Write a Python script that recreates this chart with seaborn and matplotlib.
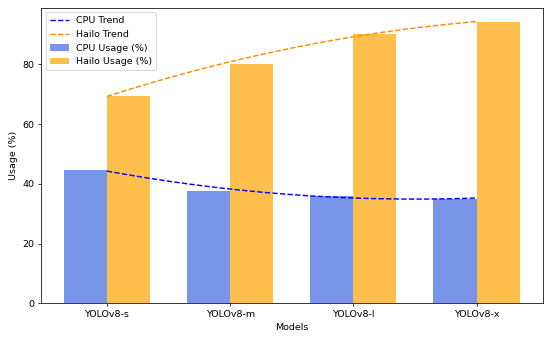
import numpy as np
import pandas as pd
import seaborn as sns
import matplotlib
matplotlib.use("Agg")
import matplotlib.pyplot as plt
from matplotlib.patches import Patch

# dados
modelos = ["YOLOv8-s", "YOLOv8-m", "YOLOv8-l", "YOLOv8-x"]
cpu_uso = [44.5, 37.5, 36.0, 35.0]
hailo_uso = [69.5, 80.0, 90.0, 94.0]

cor_cpu = "royalblue"
cor_hailo = "orange"

df = pd.DataFrame({
    "modelo": modelos * 2,
    "uso": cpu_uso + hailo_uso,
    "tipo": ["CPU Usage (%)"] * 4 + ["Hailo Usage (%)"] * 4,
})

dpi = 68.75
fig, ax = plt.subplots(figsize=(550 / dpi, 338 / dpi), dpi=dpi)

sns.barplot(data=df, x="modelo", y="uso", hue="tipo", width=0.7,
            palette=[cor_cpu, cor_hailo], alpha=0.7, saturation=1,
            ax=ax, legend=False)

# linhas de tendência (ajuste polinomial de grau 2)
x = np.arange(len(modelos))
xs = np.linspace(0, len(modelos) - 1, 100)
tend_cpu = np.polyval(np.polyfit(x, cpu_uso, 2), xs)
tend_hailo = np.polyval(np.polyfit(x, hailo_uso, 2), xs)
l1, = ax.plot(xs, tend_cpu, linestyle="--", color="blue", label="CPU Trend")
l2, = ax.plot(xs, tend_hailo, linestyle="--", color="darkorange", label="Hailo Trend")

ax.set_xlabel("Models")
ax.set_ylabel("Usage (%)")
ax.margins(x=0.05, y=0.05)

handles = [l1, l2,
           Patch(facecolor=cor_cpu, alpha=0.7, label="CPU Usage (%)"),
           Patch(facecolor=cor_hailo, alpha=0.7, label="Hailo Usage (%)")]
ax.legend(handles=handles, loc="upper left")

fig.subplots_adjust(left=41 / 550, right=542.5 / 550, top=1 - 7.5 / 338, bottom=1 - 303.3 / 338)
plt.savefig("out.png", dpi=dpi)
